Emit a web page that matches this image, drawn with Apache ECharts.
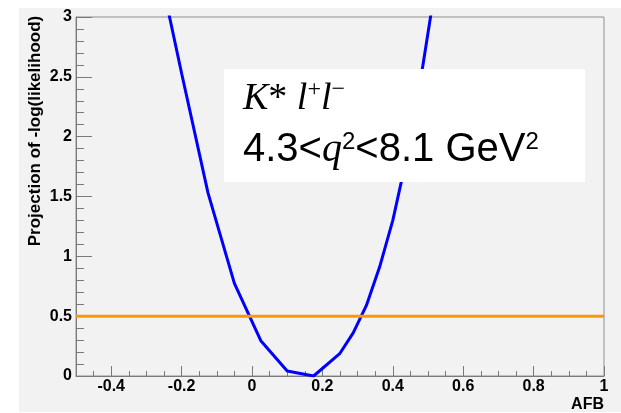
<!DOCTYPE html>
<html>
<head>
<meta charset="utf-8">
<script src="https://cdn.jsdelivr.net/npm/echarts@6/dist/echarts.min.js"></script>
<style>
  html, body { margin: 0; padding: 0; background: #fff; }
  #container { width: 621px; height: 413px; }
</style>
</head>
<body>
<div id="container"></div>
<script>
// scan of -log(likelihood) vs AFB
const afb = [-0.275, -0.2, -0.125, -0.05, 0.025, 0.1, 0.175, 0.25, 0.2875, 0.325, 0.3625, 0.4, 0.4375, 0.475, 0.5125, 0.55];
const nll = [3.56, 2.53, 1.53, 0.774, 0.295, 0.042, 0, 0.19, 0.36, 0.59, 0.91, 1.3, 1.8, 2.4, 3.1, 3.9];

// horizontal reference level
const levelX = [-0.5, 1];
const levelY = [0.5, 0.5];

const xTicks = [-0.4, -0.2, 0, 0.2, 0.4, 0.6, 0.8, 1];

const dom = document.getElementById('container');
const chart = echarts.init(dom, null, { renderer: 'canvas' });

const axisGray = '#7a7a7a';
const labelFont = { color: '#000', fontSize: 16, fontWeight: 'bold', fontFamily: 'Liberation Sans, Arial, sans-serif' };

const serif = 'Liberation Serif, Times New Roman, serif';
const sans = 'Liberation Sans, Arial, sans-serif';

const option = {
  animation: false,
  backgroundColor: '#fff',
  grid: {
    left: 76, right: 17, top: 17, bottom: 37,
    show: true,
    borderColor: '#909090',
    borderWidth: 1
  },
  xAxis: [
    {
      type: 'value', min: -0.5, max: 1, interval: 0.05,
      axisLine: { onZero: false, lineStyle: { color: axisGray, width: 1 } },
      axisTick: { inside: true, length: 5, lineStyle: { color: axisGray } },
      axisLabel: { show: false },
      splitLine: { show: false }
    },
    {
      type: 'value', min: -0.5, max: 1, position: 'bottom',
      axisLine: { show: false, onZero: false },
      axisTick: { inside: true, length: 10, customValues: xTicks, lineStyle: { color: axisGray } },
      axisLabel: Object.assign({ customValues: xTicks, margin: 3 }, labelFont),
      splitLine: { show: false }
    }
  ],
  yAxis: {
    type: 'value', min: 0, max: 3, interval: 0.5,
    axisLine: { show: true, onZero: false, lineStyle: { color: axisGray, width: 1 } },
    axisTick: { inside: true, length: 16, lineStyle: { color: axisGray } },
    minorTick: { show: true, splitNumber: 5, length: 8, lineStyle: { color: axisGray } },
    axisLabel: Object.assign({ margin: 4 }, labelFont),
    splitLine: { show: false }
  },
  series: [
    {
      type: 'line',
      data: afb.map((v, i) => [v, nll[i]]),
      showSymbol: false,
      lineStyle: { color: '#0000ff', width: 3 },
      z: 3
    },
    {
      type: 'line',
      data: levelX.map((v, i) => [v, levelY[i]]),
      showSymbol: false,
      lineStyle: { color: '#ff9900', width: 3 },
      z: 4
    }
  ],
  graphic: [
    {
      type: 'rect', z: -10, silent: true,
      shape: { x: 19, y: 8, width: 602, height: 404 },
      style: { fill: '#f2f2f2' }
    },
    {
      type: 'text', silent: true,
      x: 35, y: 131, rotation: Math.PI / 2,
      style: {
        text: 'Projection of -log(likelihood)',
        fill: '#000', font: 'bold 17px ' + sans,
        align: 'center', verticalAlign: 'middle'
      }
    },
    {
      type: 'text', silent: true,
      x: 604, y: 405,
      style: {
        text: 'AFB',
        fill: '#000', font: 'bold 16px ' + sans,
        align: 'right', verticalAlign: 'middle'
      }
    },
    {
      type: 'rect', z: 100, silent: true,
      shape: { x: 224, y: 69, width: 361, height: 113 },
      style: { fill: '#fff' }
    },
    {
      type: 'text', z: 101, silent: true,
      x: 243, y: 98,
      style: {
        text: '{k|K}{a|*\u00a0}{l|l}{p|+}{l|l}{p|\u2212}',
        align: 'left', verticalAlign: 'middle',
        rich: {
          k: { fontFamily: serif, fontStyle: 'italic', fontSize: 38, lineHeight: 40, verticalAlign: 'bottom', fill: '#000' },
          a: { fontFamily: serif, fontSize: 38, lineHeight: 40, verticalAlign: 'bottom', fill: '#000' },
          l: { fontFamily: serif, fontStyle: 'italic', fontSize: 38, lineHeight: 40, verticalAlign: 'bottom', fill: '#000' },
          p: { fontFamily: serif, fontSize: 24, lineHeight: 24, verticalAlign: 'top', fill: '#000' }
        }
      }
    },
    {
      type: 'text', z: 101, silent: true,
      x: 243, y: 150,
      style: {
        text: '{n|4.3<}{q|q}{s|2}{n|<8.1 GeV}{s|2}',
        align: 'left', verticalAlign: 'middle',
        rich: {
          n: { fontFamily: sans, fontSize: 40, lineHeight: 40, verticalAlign: 'bottom', fill: '#000' },
          q: { fontFamily: serif, fontStyle: 'italic', fontSize: 40, lineHeight: 40, verticalAlign: 'bottom', fill: '#000' },
          s: { fontFamily: sans, fontSize: 24, lineHeight: 24, verticalAlign: 'top', fill: '#000' }
        }
      }
    }
  ]
};

chart.setOption(option);
</script>
</body>
</html>
